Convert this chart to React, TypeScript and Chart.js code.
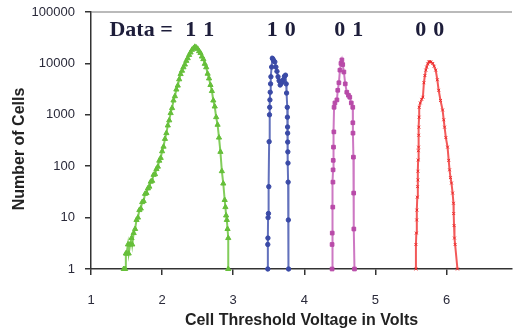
import React, { useEffect, useRef } from "react";
import { Chart, registerables } from "chart.js";

Chart.register(...registerables);

const voltageTicks = [1, 2, 3, 4, 5, 6];
const countTicks = [1, 10, 100, 1000, 10000, 100000];

// Data = 11 (green)
const v11 = [1.46, 1.48, 1.49, 1.5, 1.52, 1.53, 1.55, 1.57, 1.58, 1.6, 1.62, 1.64, 1.66, 1.68, 1.7, 1.72, 1.74, 1.76, 1.78, 1.8, 1.82, 1.84, 1.86, 1.88, 1.9, 1.92, 1.94, 1.96, 1.98, 2.0, 2.02, 2.04, 2.06, 2.08, 2.1, 2.12, 2.14, 2.16, 2.18, 2.2, 2.22, 2.24, 2.26, 2.28, 2.3, 2.32, 2.34, 2.36, 2.38, 2.4, 2.42, 2.44, 2.46, 2.48, 2.5, 2.52, 2.54, 2.56, 2.58, 2.6, 2.62, 2.64, 2.66, 2.68, 2.7, 2.72, 2.74, 2.76, 2.78, 2.8, 2.82, 2.84, 2.86, 2.88, 2.89, 2.9, 2.91, 2.92, 2.93, 2.93];
const n11 = [1, 1, 2, 2, 3, 2, 3, 4, 3, 5, 6, 9, 10, 14, 15, 20, 21, 29, 30, 37, 40, 50, 52, 68, 70, 88, 98, 128, 145, 195, 240, 340, 440, 620, 780, 1080, 1350, 1900, 2300, 3100, 3700, 4900, 6200, 7200, 8400, 9500, 11200, 12600, 14600, 16300, 18400, 19600, 21000, 20300, 19200, 17300, 15900, 13600, 12100, 9800, 8400, 6300, 5100, 3800, 2900, 1900, 1450, 900, 640, 360, 190, 80, 46, 22, 16, 11, 9, 6, 4, 1];

// Data = 10 (blue)
const v10 = [3.486, 3.486, 3.488, 3.49, 3.495, 3.5, 3.505, 3.51, 3.513, 3.516, 3.52, 3.525, 3.53, 3.54, 3.55, 3.56, 3.57, 3.585, 3.6, 3.615, 3.63, 3.645, 3.66, 3.675, 3.69, 3.705, 3.72, 3.735, 3.745, 3.75, 3.76, 3.762, 3.764, 3.765, 3.766, 3.768, 3.77, 3.772, 3.775, 3.778];
const n10 = [1, 3, 4, 10, 12, 40, 300, 1000, 1400, 1950, 2750, 4000, 5500, 8500, 12600, 12000, 11200, 10700, 8500, 7000, 5500, 4600, 3800, 4100, 4400, 4800, 5600, 5900, 4000, 2650, 1400, 900, 580, 440, 295, 190, 115, 49, 9, 1];

// Data = 01 (magenta)
const v01 = [4.39, 4.39, 4.392, 4.4, 4.402, 4.404, 4.406, 4.41, 4.415, 4.418, 4.43, 4.458, 4.47, 4.486, 4.5, 4.515, 4.528, 4.54, 4.556, 4.575, 4.597, 4.62, 4.639, 4.66, 4.681, 4.682, 4.684, 4.69, 4.694, 4.696, 4.705];
const n01 = [1, 3, 5, 16, 49, 85, 130, 235, 465, 1400, 1700, 1950, 3000, 4200, 7400, 10000, 11700, 9500, 6800, 4000, 2750, 2400, 2200, 1700, 1400, 700, 440, 150, 30, 6, 1];

// Data = 00 (red)
const v00 = [5.569, 5.569, 5.575, 5.58, 5.583, 5.588, 5.592, 5.597, 5.598, 5.6, 5.603, 5.606, 5.608, 5.611, 5.613, 5.615, 5.63, 5.65, 5.667, 5.681, 5.695, 5.708, 5.72, 5.735, 5.75, 5.765, 5.78, 5.806, 5.825, 5.847, 5.87, 5.889, 5.915, 5.944, 5.96, 5.972, 5.99, 6.014, 6.03, 6.042, 6.055, 6.069, 6.085, 6.097, 6.1, 6.105, 6.111, 6.12, 6.153];
const n00 = [1, 3, 5, 9, 14, 25, 40, 54, 80, 132, 200, 235, 400, 575, 900, 1400, 1700, 2000, 2200, 4200, 5800, 7400, 8500, 9800, 10700, 10900, 10600, 10000, 8800, 7400, 4800, 3000, 1900, 1240, 800, 575, 360, 235, 130, 85, 60, 47, 30, 19, 12, 7, 4, 3, 1];

const stateDigits = [["1", "1"], ["1", "0"], ["0", "1"], ["0", "0"]];
const labelVoltages = [2.528, 3.674, 4.625, 5.764];
const labelCount = 45000;

const toPoints = (xs: number[], ys: number[]) => xs.map((x, i) => ({ x, y: ys[i] }));

export default function App() {
  const ref = useRef<HTMLCanvasElement | null>(null);

  useEffect(() => {
    document.body.style.margin = "0";
    const canvas = ref.current;
    if (!canvas) return;

    const annotate = {
      id: "annotate",
      afterDraw(chart: any) {
        const ctx = chart.ctx;
        const { left, right, top, bottom } = chart.chartArea;
        const xs = chart.scales.x;
        const ys = chart.scales.y;
        ctx.save();
        // top frame line
        ctx.strokeStyle = "#777";
        ctx.lineWidth = 1.2;
        ctx.beginPath();
        ctx.moveTo(left, top);
        ctx.lineTo(right, top);
        ctx.stroke();
        // state labels
        ctx.fillStyle = "#1d1d3a";
        ctx.font = "bold 22px 'Liberation Serif', 'DejaVu Serif', serif";
        ctx.textBaseline = "middle";
        ctx.textAlign = "center";
        const ly = ys.getPixelForValue(labelCount);
        stateDigits.forEach((d, i) => {
          const px = xs.getPixelForValue(labelVoltages[i]);
          ctx.textAlign = "center";
          ctx.fillText(d[0], px - 9, ly);
          ctx.fillText(d[1], px + 9, ly);
          if (i === 0) {
            ctx.textAlign = "right";
            ctx.fillText("Data =", px - 27, ly);
          }
        });
        // y title
        ctx.translate(20, 149);
        ctx.rotate(-Math.PI / 2);
        ctx.textAlign = "center";
        ctx.textBaseline = "middle";
        ctx.fillStyle = "#222";
        ctx.font = "bold 16px 'Liberation Sans', Arial, sans-serif";
        ctx.fillText("Number of Cells", 0, 0);
        ctx.restore();
      },
    };

    const mk = (label: string, xs: number[], ys: number[], color: string, line: string, style: string, r: number) => ({
      label,
      data: toPoints(xs, ys),
      showLine: true,
      borderColor: line,
      borderWidth: 2,
      backgroundColor: color,
      pointBackgroundColor: color,
      pointBorderColor: color,
      pointBorderWidth: 1,
      pointStyle: style,
      pointRadius: r,
      clip: false,
    });

    const chart = new Chart(canvas, {
      type: "scatter",
      data: {
        datasets: [
          mk("11", v11, n11, "#66bf3a", "rgba(108,196,62,0.85)", "triangle", 3),
          mk("10", v10, n10, "#3a4aa6", "rgba(70,88,176,0.85)", "circle", 2.2),
          mk("01", v01, n01, "#b84aa8", "rgba(196,96,184,0.85)", "rect", 2.6),
          mk("00", v00, n00, "#ec2a2a", "rgba(240,60,60,0.85)", "crossRot", 2),
        ] as any,
      },
      options: {
        animation: false,
        responsive: false,
        devicePixelRatio: 1,
        layout: { padding: { top: 12, left: 0, right: 0, bottom: 0 } },
        plugins: { legend: { display: false }, tooltip: { enabled: false } },
        scales: {
          x: {
            type: "linear",
            min: 1,
            max: 6.92,
            afterBuildTicks: (s: any) => {
              s.ticks = voltageTicks.map((v) => ({ value: v }));
            },
            afterFit: (s: any) => {
              s.height = 66;
              s.paddingLeft = 0;
              s.paddingRight = 0;
            },
            grid: { drawOnChartArea: false, drawTicks: true, tickLength: 6, color: "#333", lineWidth: 1.5 },
            border: { color: "#333", width: 1.5 },
            ticks: {
              padding: 18,
              color: "#2a2a3a",
              font: { size: 13, family: "'Liberation Sans', Arial, sans-serif" },
              callback: (v: any) => String(v),
            },
            title: {
              display: true,
              text: "Cell Threshold Voltage in Volts",
              color: "#222",
              font: { size: 16, weight: "bold", family: "'Liberation Sans', Arial, sans-serif" },
              padding: { top: 0, bottom: 5 },
            },
          },
          y: {
            type: "logarithmic",
            min: 1,
            max: 100000,
            afterBuildTicks: (s: any) => {
              s.ticks = countTicks.map((v) => ({ value: v }));
            },
            afterFit: (s: any) => {
              s.width = 91;
              s.paddingTop = 0;
              s.paddingBottom = 0;
            },
            grid: { drawOnChartArea: false, drawTicks: true, tickLength: 6, color: "#333", lineWidth: 1.5 },
            border: { color: "#333", width: 1.5 },
            ticks: {
              padding: 10,
              color: "#2a2a3a",
              font: { size: 13, family: "'Liberation Sans', Arial, sans-serif" },
              callback: (v: any) => String(v),
            },
          },
        },
      } as any,
      plugins: [annotate],
    });

    return () => chart.destroy();
  }, []);

  return (
    <div style={{ position: "absolute", left: 0, top: 0, width: 517, height: 335, background: "#fff" }}>
      <canvas ref={ref} width={517} height={335} />
    </div>
  );
}
